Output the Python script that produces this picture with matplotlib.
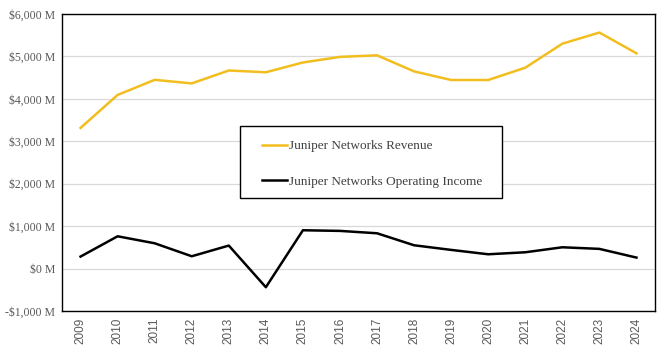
import matplotlib
matplotlib.use("Agg")
import matplotlib.pyplot as plt
from matplotlib.patches import Rectangle
from matplotlib.ticker import FuncFormatter

years = [str(y) for y in range(2009, 2025)]
revenue = [3316, 4093, 4449, 4365, 4669, 4627, 4858, 4990, 5027, 4648, 4445, 4445, 4735, 5301, 5564, 5074]
op_income = [283, 761, 596, 290, 542, -440, 903, 888, 832, 549, 440, 337, 384, 502, 464, 259]

plt.rcParams['font.family'] = ['Liberation Serif', 'DejaVu Serif']

fig = plt.figure(figsize=(6.62, 3.51), dpi=100)
ax = fig.add_axes([0.0937, 0.114, 0.8957, 0.846])

x = list(range(len(years)))
ax.plot(x, revenue, color='#F2BE1F', lw=1.8, label='Juniper Networks Revenue')
ax.plot(x, op_income, color='#000000', lw=1.8, label='Juniper Networks Operating Income')

ax.set_xlim(-0.5, len(years) - 0.5)
ax.set_ylim(-1000, 6000)
ax.set_yticks(range(-1000, 6001, 1000))
ax.yaxis.set_major_formatter(FuncFormatter(lambda v, p: f"${v:,.0f} M" if v >= 0 else f"-${-v:,.0f} M"))
ax.set_xticks(x)
ax.set_xticklabels(years, rotation=90, family=['Liberation Sans', 'DejaVu Sans'], fontsize=8.5)
ax.tick_params(axis='y', length=0, labelsize=8.5, colors='#595959', pad=5)
ax.tick_params(axis='x', length=0, colors='#595959', pad=5)
ax.grid(axis='y', color='#D9D9D9', lw=0.9)
ax.set_axisbelow(True)
for s in ax.spines.values():
    s.set_color('black')
    s.set_linewidth(1.0)

# legend box frame
ax.add_patch(Rectangle((0.300, 0.3805), 0.442, 0.2425, transform=ax.transAxes,
                       facecolor='white', edgecolor='black', lw=1.0, zorder=4))
leg = ax.legend(loc='upper left', bbox_to_anchor=(0.337, 0.575),
                frameon=False, fontsize=9.5,
                handlelength=1.9, handletextpad=0.15, labelspacing=1.75, borderpad=0,
                borderaxespad=0)
leg.set_zorder(5)
for t in leg.get_texts():
    t.set_color('#404040')

fig.savefig('out.png', dpi=100)
